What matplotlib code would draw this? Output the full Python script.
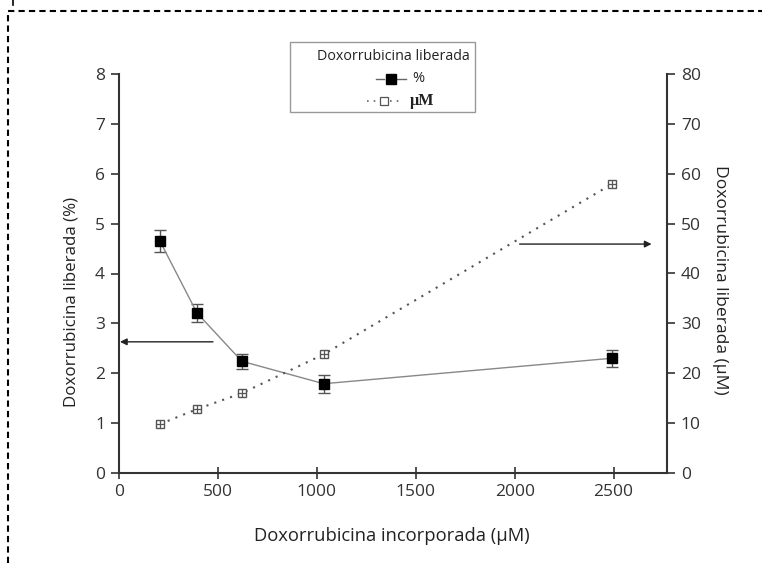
import matplotlib
matplotlib.use("Agg")
import matplotlib.pyplot as plt
from matplotlib.lines import Line2D
from matplotlib.patches import Rectangle

plt.rcParams['font.family'] = ['Open Sans', 'DejaVu Sans']

# Data
x_incorporated = [207, 394, 621, 1035, 2490]
pct_released = [4.65, 3.21, 2.24, 1.79, 2.30]
pct_err = [0.22, 0.18, 0.15, 0.18, 0.17]
um_released = [9.8, 12.8, 16.0, 23.8, 57.9]

x_ticks = [0, 500, 1000, 1500, 2000, 2500]
left_ticks = [0, 1, 2, 3, 4, 5, 6, 7, 8]
right_ticks = [0, 10, 20, 30, 40, 50, 60, 70, 80]

W, H = 762, 563
fig = plt.figure(figsize=(W / 100, H / 100), dpi=100)
ax = fig.add_axes([119 / W, 1 - 473 / H, (667 - 119) / W, (473 - 74) / H])
ax2 = ax.twinx()

axis_col = '#333333'
tick_fs = 12.5

# % series
ax.errorbar(x_incorporated, pct_released, yerr=pct_err, color='#888888', lw=1.0,
            marker='s', ms=7, mfc='black', mec='black', ecolor='#555555',
            elinewidth=1.0, capsize=4, capthick=1.0, zorder=3)

# uM series
ax2.plot(x_incorporated, um_released, color='#555555', lw=1.5, ls=(0, (1, 3)), zorder=2)
ax2.plot(x_incorporated, um_released, ls='none', marker='s', ms=6, mfc='white',
         mec='#555555', mew=1.0, zorder=3)
ax2.plot(x_incorporated, um_released, ls='none', marker='+', ms=6,
         mec='#555555', mew=0.9, zorder=4)

ax.set_xlim(0, 2770)
ax.set_ylim(0, 8)
ax2.set_ylim(0, 80)

ax.set_xticks(x_ticks)
ax.set_yticks(left_ticks)
ax2.set_yticks(right_ticks)

for a in (ax, ax2):
    a.spines['top'].set_visible(False)
    for s in a.spines.values():
        s.set_color(axis_col)
        s.set_linewidth(1.5)
ax2.spines['left'].set_visible(False)
ax2.spines['bottom'].set_visible(False)
ax.spines['right'].set_visible(False)

ax.tick_params(axis='y', direction='out', length=6, width=1.2, color=axis_col,
               labelsize=tick_fs, labelcolor='#333333', pad=4)
ax.tick_params(axis='x', direction='inout', length=8, width=1.2, color=axis_col,
               labelsize=tick_fs, labelcolor='#333333', pad=4)
ax2.tick_params(axis='y', direction='out', length=6, width=1.2, color=axis_col,
                labelsize=tick_fs, labelcolor='#333333', pad=4)

ax.set_xlabel('Doxorrubicina incorporada (µM)', fontsize=13.2, color='#222222')
ax.set_ylabel('Doxorrubicina liberada (%)', fontsize=12.2, color='#222222')
ax2.set_ylabel('Doxorrubicina liberada (µM)', fontsize=12.6, color='#222222',
               rotation=270, va='center')
ax.xaxis.set_label_coords((392 - 119) / 548, -(527 - 473) / 399)
ax.yaxis.set_label_coords(-(119 - 80) / 548, (473 - 302) / 399)
ax2.yaxis.set_label_coords((720 - 119) / 548, (473 - 280) / 399)

# Arrows
ax.annotate('', xy=(5, 2.63), xytext=(475, 2.63),
            arrowprops=dict(arrowstyle='-|>', color='#222222', lw=1.0,
                            mutation_scale=10, shrinkA=0, shrinkB=0),
            annotation_clip=False)
ax2.annotate('', xy=(2692, 45.9), xytext=(2025, 45.9),
             arrowprops=dict(arrowstyle='-|>', color='#222222', lw=1.0,
                             mutation_scale=10, shrinkA=0, shrinkB=0),
             annotation_clip=False)

# Legend (manual)
def fx(px):
    return px / W

def fy(py):
    return 1 - py / H

fig.patches.append(Rectangle((fx(290), fy(112)), fx(475) - fx(290), fy(42) - fy(112),
                             transform=fig.transFigure, fill=True, facecolor='white',
                             edgecolor='#999999', lw=1.0, zorder=5))
fig.text(fx(470), fy(57), 'Doxorrubicina liberada', ha='right', va='center',
         fontsize=10.3, color='#222222', zorder=6)
fig.lines.append(Line2D([fx(376), fx(384)], [fy(79), fy(79)], transform=fig.transFigure,
                        color='#666666', lw=1.0, zorder=6))
fig.lines.append(Line2D([fx(397), fx(406)], [fy(79), fy(79)], transform=fig.transFigure,
                        color='#666666', lw=1.0, zorder=6))
fig.lines.append(Line2D([fx(391)], [fy(79)], transform=fig.transFigure, ls='none',
                        marker='s', ms=6.5, mfc='black', mec='black', zorder=7))
fig.text(fx(412), fy(79), '%', ha='left', va='center', fontsize=10.5,
         color='#222222', zorder=6)
fig.lines.append(Line2D([fx(367), fx(379)], [fy(101), fy(101)], transform=fig.transFigure,
                        color='#666666', lw=1.2, ls=(0, (1, 3)), zorder=6))
fig.lines.append(Line2D([fx(390), fx(402)], [fy(101), fy(101)], transform=fig.transFigure,
                        color='#666666', lw=1.2, ls=(0, (1, 3)), zorder=6))
fig.lines.append(Line2D([fx(384)], [fy(101)], transform=fig.transFigure, ls='none',
                        marker='s', ms=6, mfc='white', mec='#555555', mew=0.9, zorder=7))
fig.text(fx(410), fy(101), 'µM', ha='left', va='center', fontsize=11.5,
         family=['Liberation Serif', 'DejaVu Serif'], weight='bold', color='#222222', zorder=6)

# Dashed frame
dash = (0, (3, 2))
fig.lines.append(Line2D([fx(8), fx(8), 1.0], [0.0, fy(11), fy(11)],
                        transform=fig.transFigure, color='black', lw=1.5, ls=dash))
fig.lines.append(Line2D([fx(13), fx(13)], [fy(0), fy(5)], transform=fig.transFigure,
                        color='black', lw=1.2))

fig.savefig('out.png', dpi=100)
